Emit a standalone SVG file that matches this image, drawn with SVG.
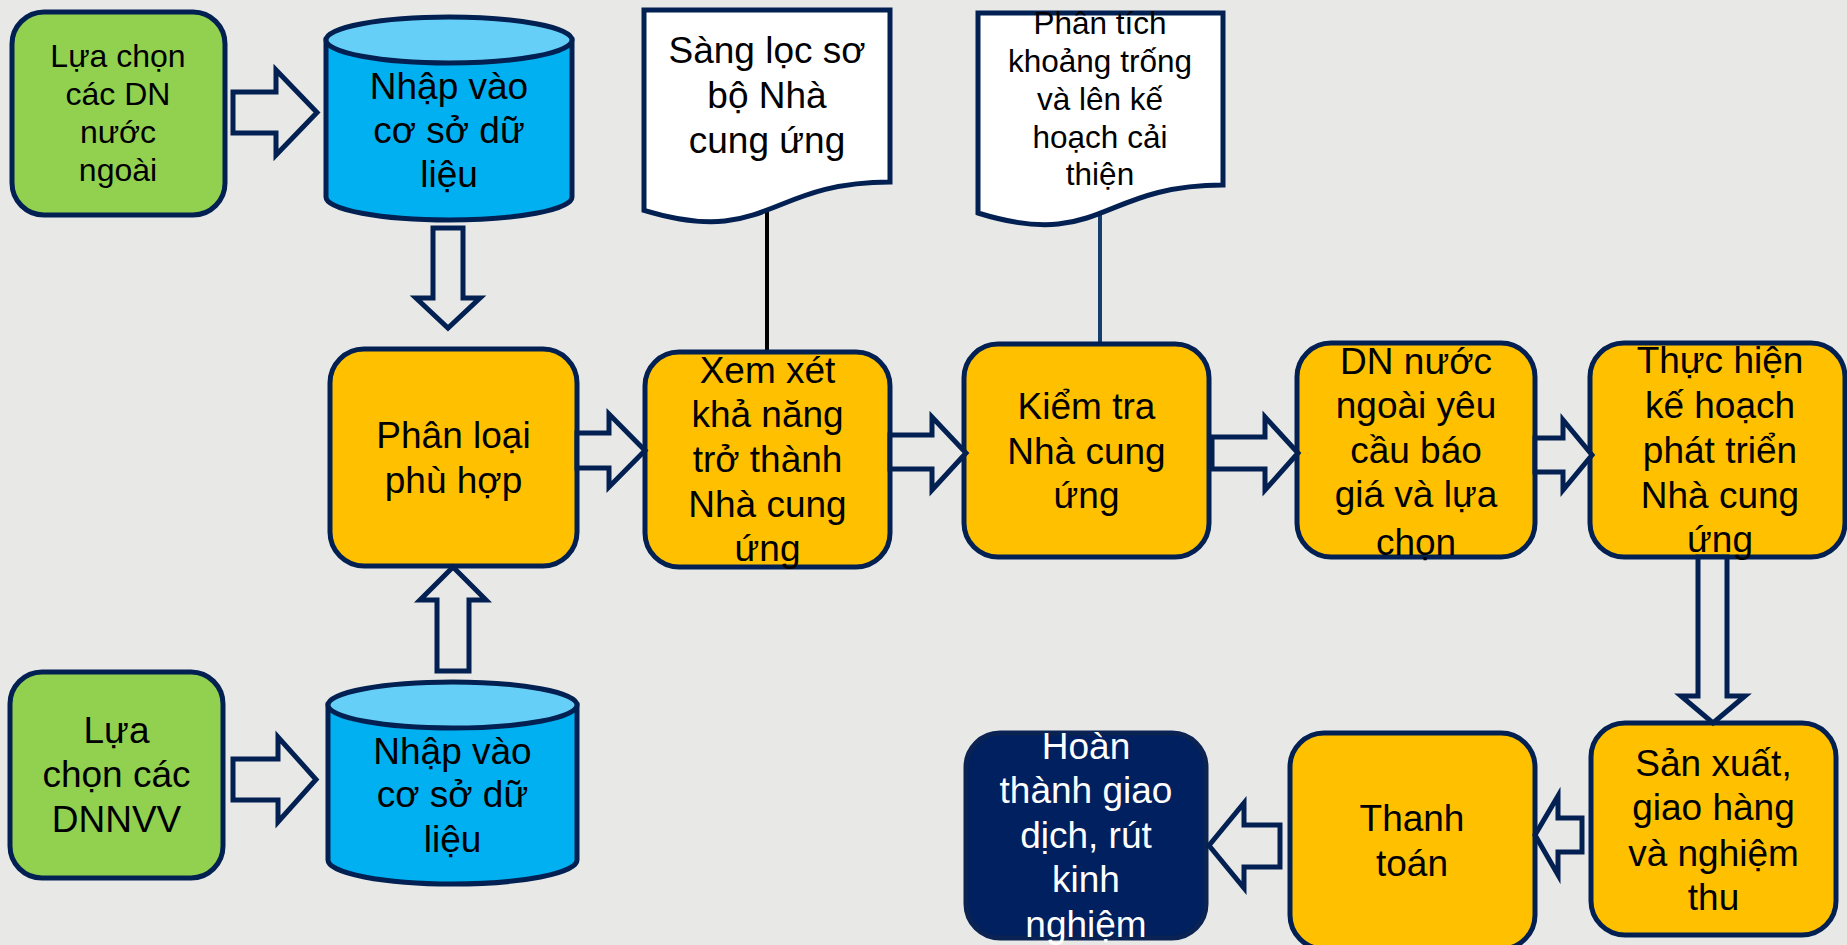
<svg xmlns="http://www.w3.org/2000/svg" width="1847" height="945" viewBox="0 0 1847 945">
<style>
text{font-family:"Liberation Sans",Arial,sans-serif;font-size:37px;fill:#000;text-anchor:middle}
.s32{font-size:32px}
.s31{font-size:31.5px}
.w{fill:#fff}
.box{stroke:#022152;stroke-width:5}
.g{fill:#92D050}
.o{fill:#FFC000}
.n{fill:#002060;stroke:#0B2353}
.cyl{fill:#00B0F0;stroke:#022152;stroke-width:5}
.cylTop{fill:#66CFF7;stroke:#022152;stroke-width:5}
.doc{fill:#fff;stroke:#022152;stroke-width:5}
.arr{fill:#E8E8E6;stroke:#022152;stroke-width:5;stroke-linejoin:miter}
</style>
<rect width="1847" height="945" fill="#E8E8E6"/>

<g id="connectors">
<line x1="767" y1="208" x2="767" y2="352" stroke="#000" stroke-width="4"/>
<line x1="1100" y1="212" x2="1100" y2="344" stroke="#173C6E" stroke-width="4"/>
</g>

<g id="doc1">
<path class="doc" d="M644,10 H890 V182 C767,182 767,247.6 644,210.3 Z"/>
<text><tspan x="767" y="63">Sàng lọc sơ</tspan><tspan x="767" y="108">bộ Nhà</tspan><tspan x="767" y="153">cung ứng</tspan></text>
</g>

<g id="doc2">
<path class="doc" d="M978,13 H1223 V185 C1100,185 1100,251 978,213 Z"/>
<text class="s31"><tspan x="1100" y="34">Phân tích</tspan><tspan x="1100" y="72">khoảng trống</tspan><tspan x="1100" y="110">và lên kế</tspan><tspan x="1100" y="148">hoạch cải</tspan><tspan x="1100" y="185">thiện</tspan></text>
</g>

<g id="green1">
<rect class="box g" x="12" y="12" width="213" height="203" rx="32"/>
<text class="s32"><tspan x="118" y="67">Lựa chọn</tspan><tspan x="118" y="105">các DN</tspan><tspan x="118" y="143">nước</tspan><tspan x="118" y="181">ngoài</tspan></text>
</g>

<g id="cyl1">
<path class="cyl" d="M326,40 V197 A123,23 0 0 0 572,197 V40 Z"/>
<ellipse class="cylTop" cx="449" cy="40" rx="123" ry="23"/>
<text><tspan x="449" y="99">Nhập vào</tspan><tspan x="449" y="143">cơ sở dữ</tspan><tspan x="449" y="187">liệu</tspan></text>
</g>

<g id="green2">
<rect class="box g" x="10" y="672" width="213" height="206" rx="32"/>
<text><tspan x="116.5" y="743">Lựa</tspan><tspan x="116.5" y="787">chọn các</tspan><tspan x="116.5" y="832">DNNVV</tspan></text>
</g>

<g id="cyl2">
<path class="cyl" d="M328,705 V860 A124.5,24 0 0 0 577,860 V705 Z"/>
<ellipse class="cylTop" cx="452.5" cy="705" rx="124.5" ry="23"/>
<text><tspan x="452.5" y="764">Nhập vào</tspan><tspan x="452.5" y="807">cơ sở dữ</tspan><tspan x="452.5" y="852">liệu</tspan></text>
</g>

<g id="phanloai">
<rect class="box o" x="330" y="349" width="247" height="217" rx="34"/>
<text><tspan x="453.5" y="448">Phân loại</tspan><tspan x="453.5" y="493">phù hợp</tspan></text>
</g>

<g id="xemxet">
<rect class="box o" x="645" y="352" width="245" height="215" rx="34"/>
<text><tspan x="767.5" y="383">Xem xét</tspan><tspan x="767.5" y="427">khả năng</tspan><tspan x="767.5" y="472">trở thành</tspan><tspan x="767.5" y="517">Nhà cung</tspan><tspan x="767.5" y="561">ứng</tspan></text>
</g>

<g id="kiemtra">
<rect class="box o" x="964" y="344" width="245" height="213" rx="34"/>
<text><tspan x="1086.5" y="419">Kiểm tra</tspan><tspan x="1086.5" y="464">Nhà cung</tspan><tspan x="1086.5" y="508">ứng</tspan></text>
</g>

<g id="dnnuocngoai">
<rect class="box o" x="1297" y="343" width="238" height="214" rx="34"/>
<text><tspan x="1416" y="374">DN nước</tspan><tspan x="1416" y="418">ngoài yêu</tspan><tspan x="1416" y="463">cầu báo</tspan><tspan x="1416" y="507">giá và lựa</tspan><tspan x="1416" y="555">chọn</tspan></text>
</g>

<g id="thuchien">
<rect class="box o" x="1590" y="343" width="255" height="214" rx="34"/>
<text><tspan x="1720" y="373">Thực hiện</tspan><tspan x="1720" y="418">kế hoạch</tspan><tspan x="1720" y="463">phát triển</tspan><tspan x="1720" y="508">Nhà cung</tspan><tspan x="1720" y="552">ứng</tspan></text>
</g>

<g id="sanxuat">
<rect class="box o" x="1591" y="723" width="245" height="212" rx="34"/>
<text><tspan x="1713.5" y="776">Sản xuất,</tspan><tspan x="1713.5" y="820">giao hàng</tspan><tspan x="1713.5" y="866">và nghiệm</tspan><tspan x="1713.5" y="910">thu</tspan></text>
</g>

<g id="thanhtoan">
<rect class="box o" x="1290" y="733" width="245" height="216" rx="34"/>
<text><tspan x="1412" y="831">Thanh</tspan><tspan x="1412" y="876">toán</tspan></text>
</g>

<g id="hoanthanh">
<rect class="box n" x="966" y="733" width="240" height="205" rx="34"/>
<text class="w"><tspan x="1086" y="759">Hoàn</tspan><tspan x="1086" y="803">thành giao</tspan><tspan x="1086" y="848">dịch, rút</tspan><tspan x="1086" y="892">kinh</tspan><tspan x="1086" y="937">nghiệm</tspan></text>
</g>

<g id="arrows">
<polygon class="arr" points="233,92 276,92 276,70 317,112.5 276,155 276,133 233,133"/>
<polygon class="arr" points="233,759 278,759 278,737 316,779.5 278,822 278,800 233,800"/>
<polygon class="arr" points="433,228 463,228 463,298 480,298 448,328 416,298 433,298"/>
<polygon class="arr" points="437,671 437,600 420,600 453,567 486,600 469,600 469,671"/>
<polygon class="arr" points="577,433 609,433 609,414 645,450.5 609,487 609,468 577,468"/>
<polygon class="arr" points="890,435 932,435 932,417 966,453 932,490 932,469 890,469"/>
<polygon class="arr" points="1212,437 1265,437 1265,417 1298,453 1265,490 1265,469 1212,469"/>
<polygon class="arr" points="1535,438 1563,438 1563,420 1592,455 1563,490 1563,472 1535,472"/>
<polygon class="arr" points="1698,557 1727,557 1727,696 1745,696 1713,723 1681,696 1698,696"/>
<polygon class="arr" points="1582,818 1558,818 1558,796 1535,835 1558,875 1558,852 1582,852"/>
<polygon class="arr" points="1280,825 1244,825 1244,803 1209,845.5 1244,888 1244,867 1280,867"/>
</g>
</svg>
